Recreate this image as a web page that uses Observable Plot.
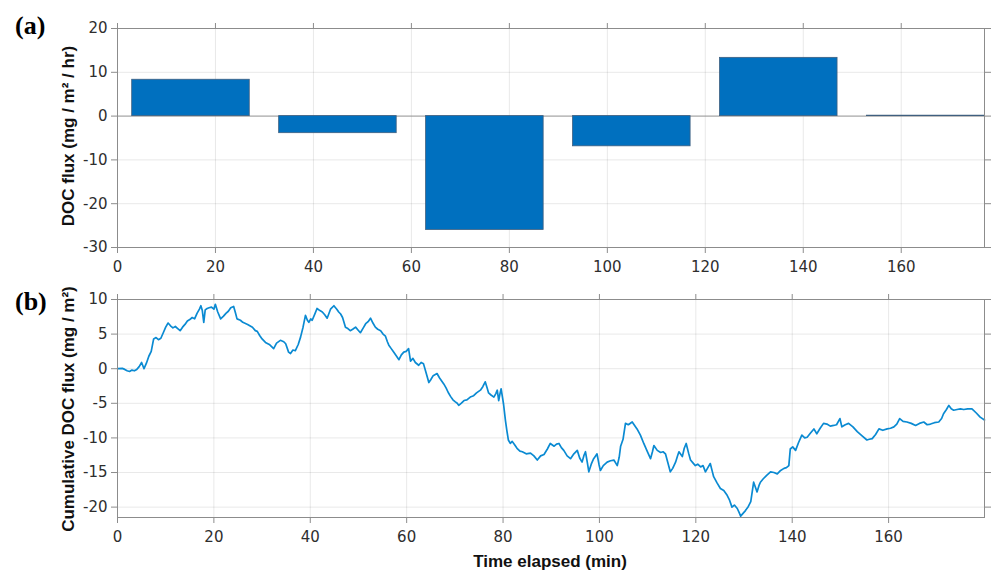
<!DOCTYPE html>
<html>
<head>
<meta charset="utf-8">
<script src="https://cdn.jsdelivr.net/npm/d3@7"></script>
<script src="https://cdn.jsdelivr.net/npm/@observablehq/plot@0.6"></script>
<style>
  html, body { margin: 0; padding: 0; background: #fff; }
  #wrap { position: relative; width: 993px; height: 572px; overflow: hidden; background: #fff; }
  #wrap svg { position: absolute; left: 0; }
  .plabel { position: absolute; font-family: "Liberation Serif", "DejaVu Serif", serif; font-weight: bold; font-size: 26px; color: #000; line-height: 1; }
  .ytitle { position: absolute; font-family: "Liberation Sans", Arial, sans-serif; font-weight: bold; font-size: 17px; color: #111; white-space: nowrap; transform: translate(-50%, -50%) rotate(-90deg); line-height: 1; }
  .xtitle { position: absolute; font-family: "Liberation Sans", Arial, sans-serif; font-weight: bold; font-size: 17px; color: #111; white-space: nowrap; transform: translate(-50%, -50%); line-height: 1; }
</style>
</head>
<body>
<div id="wrap"></div>
<script>
// ---- Panel (a): DOC flux per 24-min window ----
const barStart = [3, 33, 63, 93, 123, 153];
const barEnd   = [27, 57, 87, 117, 147, 177];
const barFlux  = [8.3, -3.9, -26.0, -6.9, 13.3, 0.1];
const xTicks   = [0, 20, 40, 60, 80, 100, 120, 140, 160];
const yTicksA  = [-30, -20, -10, 0, 10, 20];

// ---- Panel (b): cumulative DOC flux ----
const timeMin = [0,1,1.5,2,2.5,3,3.5,4,4.5,5,5.5,6,6.5,7,7.5,8,8.5,9,9.5,10,10.5,11,11.5,12,12.5,13,13.5,14,14.5,15,15.5,16,16.5,17,17.3,17.6,17.9,18.2,18.6,19,19.5,20,20.3,20.8,21.4,22,22.5,23,23.5,24.1,24.5,24.8,25.5,26,27,28,28.6,29,29.5,30,30.7,31.5,32.4,33,33.8,34.5,34.9,35.5,35.9,36.4,36.9,37.5,38,38.5,39,39.4,39.7,40.1,40.4,41,41.4,42,42.5,43,43.5,44.2,44.9,45.5,45.9,46.3,46.7,47.3,47.8,48.3,48.8,49.4,49.9,50.4,51,51.5,52,52.5,53,53.5,54,54.6,55.1,55.6,56,56.3,56.8,57.3,57.8,58.4,58.9,59.4,59.9,60.4,60.8,61.3,61.8,62.5,63,63.5,64,64.6,65,65.5,66.3,66.8,67.3,67.7,68.2,68.6,69.1,69.6,70.1,70.5,70.8,71.3,71.9,72.5,73.2,73.9,74.5,75.3,75.8,76.3,76.7,77,77.5,78.1,78.5,78.8,79.1,79.4,79.6,79.9,80.1,80.5,80.8,81.1,81.5,81.9,82.4,82.9,83.5,84,84.8,85.7,86.4,87.1,87.8,88.5,89.2,89.8,90.6,91.1,91.6,92.1,92.6,93.3,94,94.7,95.4,95.9,96.4,96.8,97.1,97.5,97.8,98.3,98.8,99.2,99.5,99.9,100.2,100.8,101.6,102.3,103,103.7,104.1,104.4,104.9,105.4,106,106.8,107.3,107.8,108.5,109.2,109.9,110.6,111,111.3,112,112.7,113.2,113.7,114.2,114.7,115.2,115.8,116.2,116.5,116.9,117.2,117.6,118,118.5,118.9,119.4,119.9,120.4,121,121.5,122,122.5,123,123.4,123.7,124.4,125.1,125.8,126.5,127,127.5,128,128.6,129,129.3,129.8,130.3,130.9,131.4,132,132.4,132.7,133.1,133.4,134,134.7,135.5,136.2,136.9,137.6,138.3,138.8,139.3,139.6,140.1,140.7,141.3,142,142.6,143.1,143.8,144.5,145.1,145.8,146.5,147.2,147.9,148.6,149.2,149.9,150.3,151,151.7,152.6,153.5,154.5,155.5,156,156.6,157.3,158,158.8,159.7,160.4,161.1,161.7,162.3,163,163.8,164.7,165.6,166.4,167.3,168,168.7,169.5,170.4,171,171.4,172,172.5,173,173.5,174.2,174.9,175.6,176.4,177.3,178.2,179,179.9];
const cumFlux = [0,0.05,-0.1,-0.3,-0.4,-0.2,-0.3,-0.1,0.3,0.9,0.0,0.8,1.8,2.5,4.3,4.5,4.2,4.4,5.2,6.0,6.6,6.2,5.9,6.1,5.8,5.5,6.0,6.4,6.9,7.1,7.4,7.2,8.0,8.6,9.1,8.4,6.7,8.5,8.7,8.8,8.9,8.6,9.3,8.2,7.2,7.6,8.0,8.3,8.8,9.0,8.0,7.2,7.0,6.7,6.4,6.0,5.5,5.4,4.8,4.3,3.8,3.5,2.9,3.7,4.1,3.9,3.6,2.4,2.2,2.7,2.6,3.5,4.6,6.0,7.7,7.0,6.7,7.2,7.0,8.0,8.7,8.4,8.2,7.8,7.3,8.6,9.1,8.6,8.2,7.9,7.4,6.0,5.8,5.5,5.7,6.0,5.6,5.2,5.9,6.5,6.8,7.3,6.6,6.0,5.7,5.5,5.0,4.7,3.9,3.4,2.9,2.4,1.9,1.3,2.0,2.4,2.5,2.9,1.1,1.5,0.9,0.5,0.9,0.7,-0.5,-2.0,-1.6,-1.0,-0.7,-1.3,-1.8,-2.2,-2.8,-3.4,-4.0,-4.5,-4.8,-5.0,-5.3,-5.0,-4.6,-4.5,-4.1,-3.9,-3.5,-3.1,-2.6,-1.9,-2.8,-3.5,-3.8,-4.1,-3.6,-3.1,-4.6,-3.5,-2.9,-4.2,-5.1,-7.5,-9.0,-10.3,-10.8,-10.5,-11.0,-11.5,-11.9,-12.0,-12.3,-12.2,-12.6,-13.2,-12.6,-12.4,-11.6,-10.8,-11.2,-10.9,-10.8,-11.4,-11.8,-12.6,-13.0,-12.3,-11.8,-12.9,-13.5,-12.5,-12.0,-13.6,-14.9,-13.8,-13.0,-12.6,-12.3,-13.8,-14.7,-14.0,-13.5,-13.3,-13.2,-14.0,-12.8,-11.2,-10.2,-7.9,-8.1,-7.7,-8.2,-8.7,-9.6,-10.8,-11.9,-13.0,-12.0,-11.1,-11.8,-12.1,-12.0,-12.3,-13.6,-14.9,-14.4,-13.5,-12.6,-12.0,-12.4,-12.7,-11.5,-10.8,-12.2,-13.2,-13.6,-14.0,-13.8,-14.2,-14.0,-14.9,-14.3,-13.7,-14.8,-15.6,-16.5,-17.3,-17.6,-18.3,-19.0,-20.0,-19.7,-20.2,-20.8,-21.3,-20.9,-20.5,-19.9,-19.2,-16.4,-17.2,-17.8,-16.9,-16.4,-15.9,-15.4,-14.9,-15.0,-15.2,-14.7,-14.4,-14.3,-14.0,-11.6,-11.3,-11.8,-10.7,-9.6,-10.0,-9.9,-9.3,-8.7,-9.4,-8.6,-7.9,-8.0,-8.3,-8.2,-8.1,-7.2,-8.4,-8.1,-7.9,-8.4,-9.1,-9.7,-10.3,-10.2,-10.1,-9.5,-8.7,-8.9,-8.7,-8.6,-8.4,-8.0,-7.2,-7.6,-7.7,-7.9,-8.2,-7.9,-7.7,-8.1,-8.0,-7.8,-7.7,-7.2,-6.5,-5.9,-5.3,-5.8,-6.0,-5.9,-5.8,-5.9,-5.8,-5.8,-6.4,-7.0,-7.4];
const yTicksB = [-20, -15, -10, -5, 0, 5, 10];

// ---- build tables ----
const bars = barStart.map((s, i) => ({start: s, end: barEnd[i], flux: barFlux[i]}));
const series = timeMin.map((t, i) => ({t, v: cumFlux[i]}));

const axisColor = "#8c8c8c";
const gridStyle = {stroke: "#000", strokeOpacity: 0.09};
const fmt = d => String(d);
const baseStyle = {
  fontFamily: "'DejaVu Sans', 'Liberation Sans', Arial, sans-serif",
  fontSize: "15px",
  color: "#2e2e2e",
  background: "transparent",
  overflow: "visible"
};

function frameAxes(yTicks) {
  return [
    Plot.frame({stroke: axisColor}),
    Plot.axisX(xTicks, {anchor: "bottom", tickSize: 6, tickPadding: 8, tickFormat: fmt, label: null, stroke: axisColor}),
    Plot.axisX(xTicks, {anchor: "top", tickSize: 6, tickFormat: () => "", label: null, stroke: axisColor}),
    Plot.axisY(yTicks, {anchor: "left", tickSize: 6, tickPadding: 4, tickFormat: fmt, label: null, stroke: axisColor}),
    Plot.axisY(yTicks, {anchor: "right", tickSize: 6, tickFormat: () => "", label: null, stroke: axisColor})
  ];
}

const plotA = Plot.plot({
  width: 993, height: 285,
  marginLeft: 117, marginRight: 9, marginTop: 28, marginBottom: 38,
  x: {domain: [0, 177]},
  y: {domain: [-30, 20]},
  style: baseStyle,
  marks: [
    Plot.gridX(xTicks, gridStyle),
    Plot.gridY(yTicksA, gridStyle),
    Plot.ruleY([0], {stroke: "#9a9a9a", strokeWidth: 1}),
    Plot.rectY(bars, {x1: "start", x2: "end", y: "flux", fill: "#0070bf", stroke: "#3f5f7f", strokeWidth: 0.8}),
    ...frameAxes(yTicksA)
  ]
});

const plotB = Plot.plot({
  width: 993, height: 287,
  marginLeft: 117, marginRight: 9, marginTop: 14, marginBottom: 55,
  x: {domain: [0, 179.9]},
  y: {domain: [-21.5, 10]},
  style: baseStyle,
  marks: [
    Plot.gridX(xTicks, gridStyle),
    Plot.gridY(yTicksB, gridStyle),
    Plot.line(series, {x: "t", y: "v", stroke: "#0a8ad2", strokeWidth: 1.7, strokeLinejoin: "round"}),
    ...frameAxes(yTicksB)
  ]
});

const wrap = document.getElementById("wrap");
plotA.style.top = "0px";
plotB.style.top = "285px";
wrap.appendChild(plotA);
wrap.appendChild(plotB);

function addDiv(cls, text, left, top) {
  const d = document.createElement("div");
  d.className = cls;
  d.textContent = text;
  d.style.left = left + "px";
  d.style.top = top + "px";
  wrap.appendChild(d);
}
addDiv("plabel", "(a)", 15, 13);
addDiv("plabel", "(b)", 15, 289);
addDiv("ytitle", "DOC flux (mg / m² / hr)", 68, 136);
addDiv("ytitle", "Cumulative DOC flux (mg / m²)", 68, 409);
addDiv("xtitle", "Time elapsed (min)", 550, 561);
</script>
</body>
</html>
